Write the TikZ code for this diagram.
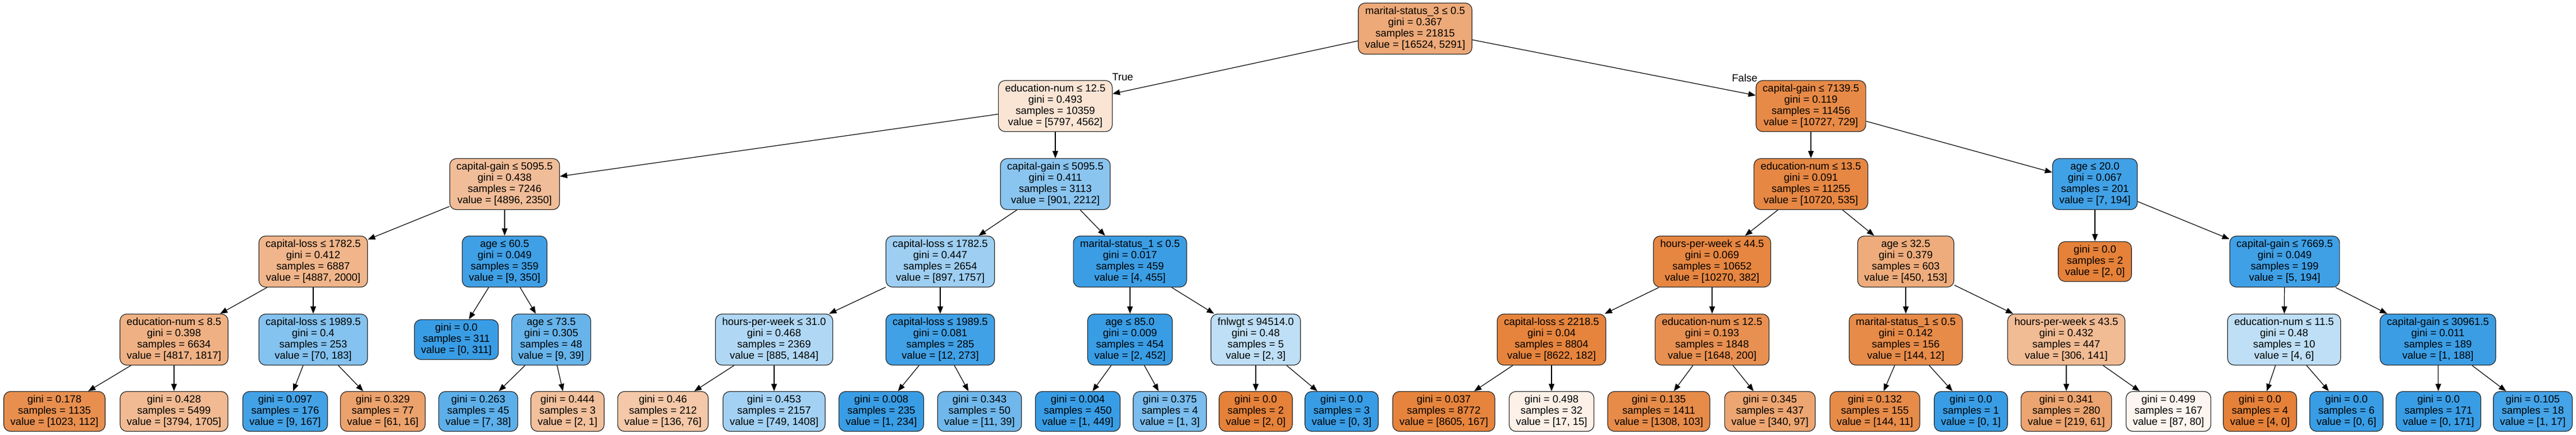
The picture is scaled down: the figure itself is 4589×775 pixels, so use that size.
\documentclass[tikz,border=0pt]{standalone}
\usepackage{fontspec}
\setmainfont{Liberation Sans}
\usetikzlibrary{arrows.meta}

\definecolor{clsA}{HTML}{E58139}
\definecolor{clsB}{HTML}{399DE5}

\begin{document}
\begin{tikzpicture}[x=1pt, y=-1pt,
        font=\fontsize{18.5}{20}\selectfont,
        split/.style={draw=black!85, line width=1.2pt, rounded corners=12pt,
            align=center, inner xsep=12pt, inner ysep=5pt, minimum height=91pt},
        leaf/.style={split, minimum height=71pt},
        zero/.style={fill=clsA!#1},
        one/.style={fill=clsB!#1},
        edge/.style={->, >={Triangle[length=13pt, width=10pt]}, line width=1.2pt}]

            \useasboundingbox (0,0) rectangle (4589,775);

            % depth 0 and 1
            \node[split, zero=68] (root) at (2521,51) {marital-status\_3 ≤ 0.5\\gini = 0.367\\samples = 21815\\value = [16524, 5291]};
            \node[split, zero=21] (L) at (1880,189) {education-num ≤ 12.5\\gini = 0.493\\samples = 10359\\value = [5797, 4562]};
            \node[split, zero=93] (R) at (3226,189) {capital-gain ≤ 7139.5\\gini = 0.119\\samples = 11456\\value = [10727, 729]};

            % depth 2
            \node[split, zero=52] (LL) at (899,328) {capital-gain ≤ 5095.5\\gini = 0.438\\samples = 7246\\value = [4896, 2350]};
            \node[split, one=59] (LR) at (1880,328) {capital-gain ≤ 5095.5\\gini = 0.411\\samples = 3113\\value = [901, 2212]};
            \node[split, zero=95] (RL) at (3226,328) {education-num ≤ 13.5\\gini = 0.091\\samples = 11255\\value = [10720, 535]};
            \node[split, one=96] (RR) at (3732,328) {age ≤ 20.0\\gini = 0.067\\samples = 201\\value = [7, 194]};

            % depth 3
            \node[split, zero=59] (LLL) at (558,466) {capital-loss ≤ 1782.5\\gini = 0.412\\samples = 6887\\value = [4887, 2000]};
            \node[split, one=97] (LLR) at (899,466) {age ≤ 60.5\\gini = 0.049\\samples = 359\\value = [9, 350]};
            \node[split, one=49] (LRL) at (1675,466) {capital-loss ≤ 1782.5\\gini = 0.447\\samples = 2654\\value = [897, 1757]};
            \node[split, one=99] (LRR) at (2013,466) {marital-status\_1 ≤ 0.5\\gini = 0.017\\samples = 459\\value = [4, 455]};
            \node[split, zero=96] (RLL) at (3050,466) {hours-per-week ≤ 44.5\\gini = 0.069\\samples = 10652\\value = [10270, 382]};
            \node[split, zero=66] (RLR) at (3395,466) {age ≤ 32.5\\gini = 0.379\\samples = 603\\value = [450, 153]};
            \node[leaf, zero=100] (RRL) at (3732,466) {gini = 0.0\\samples = 2\\value = [2, 0]};
            \node[split, one=97] (RRR) at (4070,466) {capital-gain ≤ 7669.5\\gini = 0.049\\samples = 199\\value = [5, 194]};

            % depth 4
            \node[split, zero=62] (LLLL) at (310,605) {education-num ≤ 8.5\\gini = 0.398\\samples = 6634\\value = [4817, 1817]};
            \node[split, one=62] (LLLR) at (558,605) {capital-loss ≤ 1989.5\\gini = 0.4\\samples = 253\\value = [70, 183]};
            \node[leaf, one=100] (LLRL) at (813,605) {gini = 0.0\\samples = 311\\value = [0, 311]};
            \node[split, one=77] (LLRR) at (982,605) {age ≤ 73.5\\gini = 0.305\\samples = 48\\value = [9, 39]};
            \node[split, one=40] (LRLL) at (1379,605) {hours-per-week ≤ 31.0\\gini = 0.468\\samples = 2369\\value = [885, 1484]};
            \node[split, one=96] (LRLR) at (1675,605) {capital-loss ≤ 1989.5\\gini = 0.081\\samples = 285\\value = [12, 273]};
            \node[split, one=100] (LRRL) at (2013,605) {age ≤ 85.0\\gini = 0.009\\samples = 454\\value = [2, 452]};
            \node[split, one=33] (LRRR) at (2237,605) {fnlwgt ≤ 94514.0\\gini = 0.48\\samples = 5\\value = [2, 3]};
            \node[split, zero=98] (RLLL) at (2764,605) {capital-loss ≤ 2218.5\\gini = 0.04\\samples = 8804\\value = [8622, 182]};
            \node[split, zero=88] (RLLR) at (3050,605) {education-num ≤ 12.5\\gini = 0.193\\samples = 1848\\value = [1648, 200]};
            \node[split, zero=92] (RLRL) at (3395,605) {marital-status\_1 ≤ 0.5\\gini = 0.142\\samples = 156\\value = [144, 12]};
            \node[split, zero=54] (RLRR) at (3681,605) {hours-per-week ≤ 43.5\\gini = 0.432\\samples = 447\\value = [306, 141]};
            \node[split, one=33] (RRRL) at (4069,605) {education-num ≤ 11.5\\gini = 0.48\\samples = 10\\value = [4, 6]};
            \node[split, one=99] (RRRR) at (4343,605) {capital-gain ≤ 30961.5\\gini = 0.011\\samples = 189\\value = [1, 188]};

            % depth 5, all leaves
            \node[leaf, zero=89] (LLLLL) at (97,733) {gini = 0.178\\samples = 1135\\value = [1023, 112]};
            \node[leaf, zero=55] (LLLLR) at (310,733) {gini = 0.428\\samples = 5499\\value = [3794, 1705]};
            \node[leaf, one=95] (LLLRL) at (508,733) {gini = 0.097\\samples = 176\\value = [9, 167]};
            \node[leaf, zero=74] (LLLRR) at (682,733) {gini = 0.329\\samples = 77\\value = [61, 16]};
            \node[leaf, one=82] (LLRRL) at (852,733) {gini = 0.263\\samples = 45\\value = [7, 38]};
            \node[leaf, zero=50] (LLRRR) at (1011,733) {gini = 0.444\\samples = 3\\value = [2, 1]};
            \node[leaf, zero=44] (LRLLL) at (1181,733) {gini = 0.46\\samples = 212\\value = [136, 76]};
            \node[leaf, one=47] (LRLLR) at (1379,733) {gini = 0.453\\samples = 2157\\value = [749, 1408]};
            \node[leaf, one=100] (LRLRL) at (1570,733) {gini = 0.008\\samples = 235\\value = [1, 234]};
            \node[leaf, one=72] (LRLRR) at (1745,733) {gini = 0.343\\samples = 50\\value = [11, 39]};
            \node[leaf, one=100] (LRRLL) at (1920,733) {gini = 0.004\\samples = 450\\value = [1, 449]};
            \node[leaf, one=67] (LRRLR) at (2084,733) {gini = 0.375\\samples = 4\\value = [1, 3]};
            \node[leaf, zero=100] (LRRRL) at (2237,733) {gini = 0.0\\samples = 2\\value = [2, 0]};
            \node[leaf, one=100] (LRRRR) at (2390,733) {gini = 0.0\\samples = 3\\value = [0, 3]};
            \node[leaf, zero=98] (RLLLL) at (2572,733) {gini = 0.037\\samples = 8772\\value = [8605, 167]};
            \node[leaf, zero=12] (RLLLR) at (2764,733) {gini = 0.498\\samples = 32\\value = [17, 15]};
            \node[leaf, zero=92] (RLLRL) at (2955,733) {gini = 0.135\\samples = 1411\\value = [1308, 103]};
            \node[leaf, zero=71] (RLLRR) at (3153,733) {gini = 0.345\\samples = 437\\value = [340, 97]};
            \node[leaf, zero=92] (RLRLL) at (3340,733) {gini = 0.132\\samples = 155\\value = [144, 11]};
            \node[leaf, one=100] (RLRLR) at (3511,733) {gini = 0.0\\samples = 1\\value = [0, 1]};
            \node[leaf, zero=72] (RLRRL) at (3681,733) {gini = 0.341\\samples = 280\\value = [219, 61]};
            \node[leaf, zero=8] (RLRRR) at (3863,733) {gini = 0.499\\samples = 167\\value = [87, 80]};
            \node[leaf, zero=100] (RRRLL) at (4026,733) {gini = 0.0\\samples = 4\\value = [4, 0]};
            \node[leaf, one=100] (RRRLR) at (4180,733) {gini = 0.0\\samples = 6\\value = [0, 6]};
            \node[leaf, one=100] (RRRRL) at (4344,733) {gini = 0.0\\samples = 171\\value = [0, 171]};
            \node[leaf, one=94] (RRRRR) at (4512,733) {gini = 0.105\\samples = 18\\value = [1, 17]};

            % edges
            \foreach \p/\c in {root/L, root/R, L/LL, L/LR, R/RL, R/RR,
                    LL/LLL, LL/LLR, LR/LRL, LR/LRR, RL/RLL, RL/RLR, RR/RRL, RR/RRR,
                    LLL/LLLL, LLL/LLLR, LLR/LLRL, LLR/LLRR, LRL/LRLL, LRL/LRLR,
                    LRR/LRRL, LRR/LRRR, RLL/RLLL, RLL/RLLR, RLR/RLRL, RLR/RLRR,
                    RRR/RRRL, RRR/RRRR,
                    LLLL/LLLLL, LLLL/LLLLR, LLLR/LLLRL, LLLR/LLLRR, LLRR/LLRRL, LLRR/LLRRR,
                    LRLL/LRLLL, LRLL/LRLLR, LRLR/LRLRL, LRLR/LRLRR, LRRL/LRRLL, LRRL/LRRLR,
                    LRRR/LRRRL, LRRR/LRRRR, RLLL/RLLLL, RLLL/RLLLR, RLLR/RLLRL, RLLR/RLLRR,
                    RLRL/RLRLL, RLRL/RLRLR, RLRR/RLRRL, RLRR/RLRRR, RRRL/RRRLL, RRRL/RRRLR,
                    RRRR/RRRRL, RRRR/RRRRR}
                \draw[edge] (\p) -- (\c);

            \node (true) at (2000,137) {True};
            \node (false) at (3108,139) {False};

        \end{tikzpicture}
\end{document}
